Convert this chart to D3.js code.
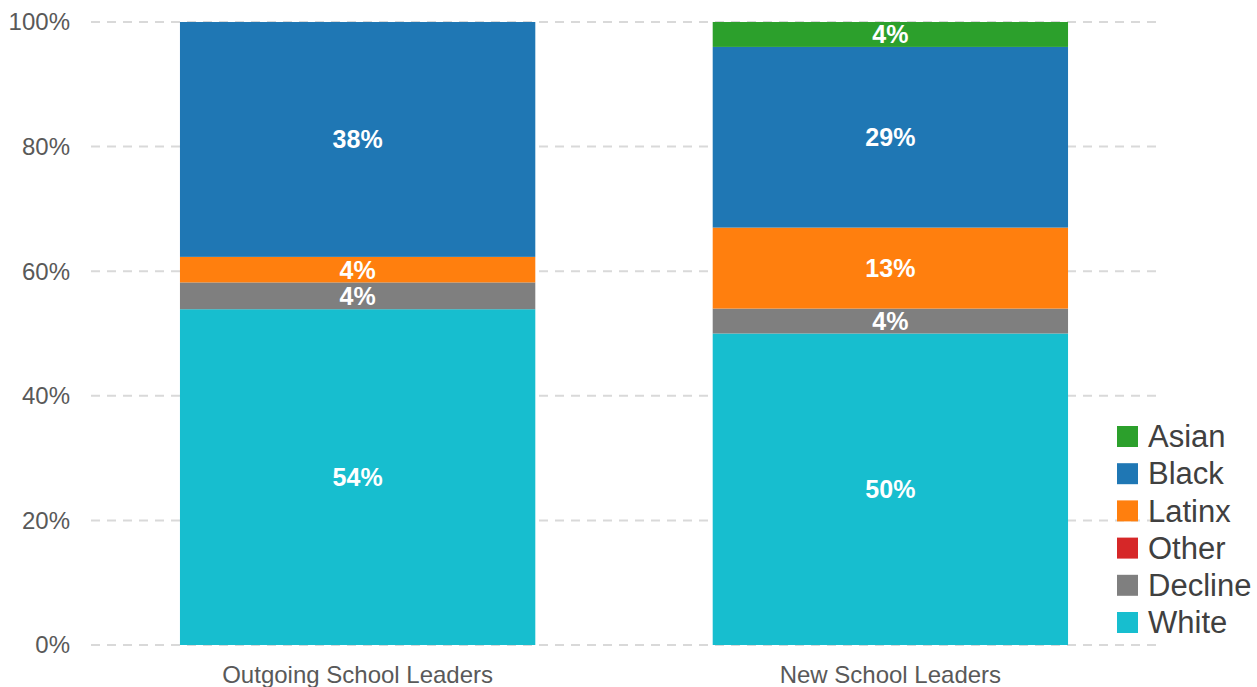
<!DOCTYPE html>
<html>
<head>
<meta charset="utf-8">
<script src="https://cdn.jsdelivr.net/npm/d3@7"></script>
<style>
  body { margin: 0; background: #fff; }
  svg { display: block; font-family: Arial, "Liberation Sans", sans-serif; }
</style>
</head>
<body>
<div id="chart"></div>
<script>
// Categories and series (stack order bottom -> top)
const groups = ['Outgoing School Leaders', 'New School Leaders']
const races = ['White', 'Decline', 'Other', 'Latinx', 'Black', 'Asian']
const legendOrder = ['Asian', 'Black', 'Latinx', 'Other', 'Decline', 'White']

const whiteVals = [53.9, 50]
const declineVals = [4.3, 4.0]
const otherVals = [0, 0]
const latinxVals = [4.1, 13]
const blackVals = [37.7, 29]
const asianVals = [0, 4]

const yTicks = [0, 20, 40, 60, 80, 100]

const colors = {
  Asian: '#2ca02c',
  Black: '#1f77b4',
  Latinx: '#ff7f0e',
  Other: '#d62728',
  Decline: '#7f7f7f',
  White: '#17becf'
}

const rows = groups.map((g, i) => ({
  group: g,
  White: whiteVals[i],
  Decline: declineVals[i],
  Other: otherVals[i],
  Latinx: latinxVals[i],
  Black: blackVals[i],
  Asian: asianVals[i]
}))

const W = 1257, H = 687

const svg = d3.select('#chart').append('svg')
  .attr('width', W)
  .attr('height', H)

const x = d3.scaleBand()
  .domain(groups)
  .range([91, 1157])
  .paddingInner(0.333)
  .paddingOuter(0.167)

const y = d3.scaleLinear()
  .domain([0, 100])
  .range([645, 22])

// gridlines
svg.append('g')
  .selectAll('line')
  .data(yTicks)
  .join('line')
  .attr('x1', 91)
  .attr('x2', 1160)
  .attr('y1', d => y(d))
  .attr('y2', d => y(d))
  .attr('stroke', '#d9d9d9')
  .attr('stroke-width', 2)
  .attr('stroke-dasharray', '9,7')

// y tick labels
svg.append('g')
  .selectAll('text')
  .data(yTicks)
  .join('text')
  .attr('x', 70)
  .attr('y', d => y(d))
  .attr('dy', '0.35em')
  .attr('text-anchor', 'end')
  .style('font-size', '24px')
  .style('fill', '#595959')
  .text(d => d + '%')

const stacked = d3.stack().keys(races)(rows)

const layers = svg.append('g')
  .selectAll('g')
  .data(stacked)
  .join('g')
  .attr('fill', d => colors[d.key])

layers.selectAll('rect')
  .data(d => d)
  .join('rect')
  .attr('x', d => x(d.data.group))
  .attr('width', x.bandwidth())
  .attr('y', d => y(d[1]))
  .attr('height', d => y(d[0]) - y(d[1]))

// segment labels
layers.selectAll('text')
  .data(d => d.filter(s => s[1] - s[0] > 0))
  .join('text')
  .attr('x', d => x(d.data.group) + x.bandwidth() / 2)
  .attr('y', d => (y(d[0]) + y(d[1])) / 2)
  .attr('dy', '0.36em')
  .attr('text-anchor', 'middle')
  .style('font-size', '25px')
  .style('font-weight', 'bold')
  .style('fill', '#fff')
  .text(d => Math.round(d[1] - d[0]) + '%')

// category labels
svg.append('g')
  .selectAll('text')
  .data(groups)
  .join('text')
  .attr('x', d => x(d) + x.bandwidth() / 2)
  .attr('y', 675)
  .attr('dy', '0.35em')
  .attr('text-anchor', 'middle')
  .style('font-size', '24px')
  .style('fill', '#595959')
  .text(d => d)

// legend
const legend = svg.append('g')
  .selectAll('g')
  .data(legendOrder)
  .join('g')
  .attr('transform', (d, i) => `translate(1117, ${436 + i * 37.2})`)

legend.append('rect')
  .attr('x', 0)
  .attr('y', -10)
  .attr('width', 21)
  .attr('height', 21)
  .attr('fill', d => colors[d])

legend.append('text')
  .attr('x', 31)
  .attr('y', 0)
  .attr('dy', '0.36em')
  .style('font-size', '31px')
  .style('fill', '#404040')
  .text(d => d)
</script>
</body>
</html>
